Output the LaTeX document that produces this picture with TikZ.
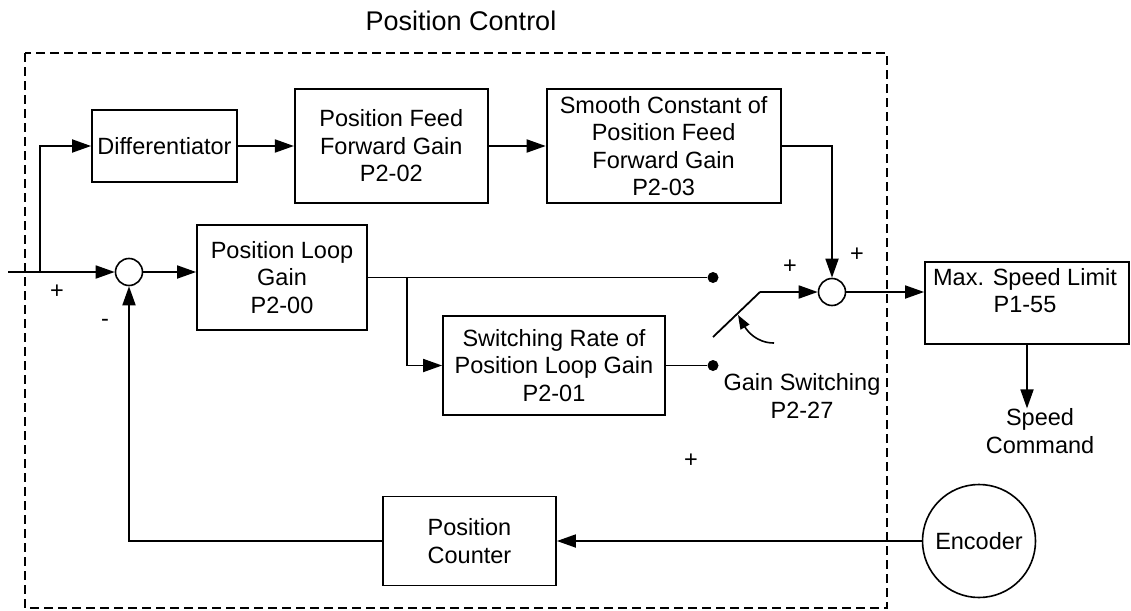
\documentclass[tikz,border=0pt]{standalone}
\usepackage{fontspec}
\setmainfont{Liberation Sans}
\usetikzlibrary{arrows.meta,positioning}

\begin{document}
\begin{tikzpicture}[
  x=1pt, y=1pt,
  font=\fontsize{23.5}{27.5}\selectfont,
  box/.style={draw, line width=1.8pt, align=center, inner sep=0pt},
  sumnode/.style={draw, circle, line width=1.6pt, minimum size=27pt, inner sep=0pt},
  dot/.style={circle, fill, minimum size=11pt, inner sep=0pt},
  txt/.style={align=center, inner sep=0pt},
  wire/.style={line width=1.8pt},
  arr/.style={-{Triangle[length=19pt,width=13pt]}, line width=1.8pt}
]
  \useasboundingbox (0,0) rectangle (1131,-610);
  \draw[line width=2.8pt, dash pattern=on 9pt off 5pt] (25,-53) rectangle (887,-608);
  \node[txt, font=\fontsize{27}{32}\selectfont] (title) at (461,-21) {Position Control};

  \node[box, minimum width=145pt, minimum height=72pt] (diff) at (164.5,-146) {Differentiator};
  \node[box, minimum width=193pt, minimum height=114pt, right=56pt of diff] (ffgain) {Position Feed\\Forward Gain\\P2-02};
  \node[box, minimum width=234pt, minimum height=114pt, right=57pt of ffgain] (ffsmooth) {Smooth Constant of\\Position Feed\\Forward Gain\\P2-03};

  \coordinate (in) at (8,-272);
  \coordinate (split) at (40,-272);
  \node[sumnode] (sumA) at (129,-272) {};
  \node[box, minimum width=170pt, minimum height=105pt] (kp) at (282,-277.5) {Position Loop\\Gain\\P2-00};
  \coordinate (tap) at (407,-277.5);
  \node[box, minimum width=222pt, minimum height=99pt] (kpsw) at (554,-365.5) {Switching Rate of\\Position Loop Gain\\P2-01};
  \node[dot] (dotA) at (713,-277.5) {};
  \node[dot] (dotB) at (713,-365.5) {};
  \coordinate (blade0) at (713,-337);
  \coordinate (blade1) at (760,-292);
  \coordinate (lever0) at (774,-343);
  \coordinate (lever1) at (738,-315);
  \node[sumnode] (sumB) at (832,-292) {};

  \node[box, minimum width=204pt, minimum height=82pt] (vlim) at (1027,-303) {};
  \node[txt] (vlimtxt) at (1025,-290.5) {Max. Speed Limit\\P1-55};
  \node[txt] (cmd) at (1040,-431) {Speed\\Command};
  \node[draw, circle, line width=1.6pt, minimum size=113pt, inner sep=0pt] (enc) at (979,-541) {Encoder};
  \node[box, minimum width=173pt, minimum height=89pt] (cnt) at (469.5,-541) {Position\\Counter};

  \node[txt] (plusA) at (57,-292) {+};
  \node[txt] (minusA) at (105,-323) {-};
  \node[txt] (plusB) at (790,-267) {+};
  \node[txt] (plusC) at (857,-255) {+};
  \node[txt] (plusD) at (691,-461) {+};
  \node[txt] (gsw) at (802,-396) {Gain Switching\\P2-27};

  \draw[arr] (in) -- (sumA);
  \draw[arr] (split) |- (diff);
  \draw[arr] (diff) -- (ffgain);
  \draw[arr] (ffgain) -- (ffsmooth);
  \draw[arr] (ffsmooth) -| (sumB);
  \draw[arr] (sumA) -- (sumA -| kp.west);
  \draw[wire] (kp) -- (dotA);
  \draw[arr] (tap) |- (kpsw);
  \draw[wire] (kpsw) -- (dotB);
  \draw[wire] (blade0) -- (blade1);
  \draw[arr] (blade1) -- (sumB);
  \draw[-{Triangle[length=14pt,width=10pt]}, line width=1.6pt] (lever0) to[out=180, in=-60] (lever1);
  \draw[arr] (sumB) -- (sumB -| vlim.west);
  \draw[arr] (vlim.south) -- (vlim.south |- cmd.north);
  \draw[arr] (enc) -- (cnt);
  \draw[arr] (cnt) -| (sumA);
\end{tikzpicture}
\end{document}
